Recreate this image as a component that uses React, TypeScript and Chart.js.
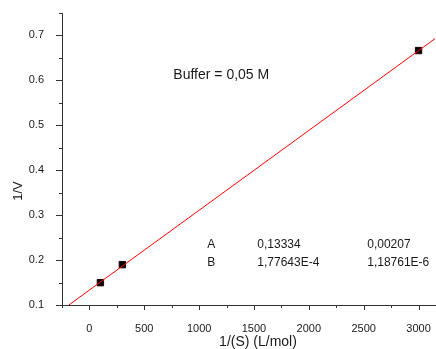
import { useEffect, useRef } from 'react';
import { Chart, registerables } from 'chart.js';

Chart.register(...registerables);

// ---- data ----
const pointX = [100, 300, 3000];
const pointY = [0.1497, 0.1898, 0.6664];
const fitX = [-187.7, 3150];
const fitY = [0.1, 0.6929];

const xMajorTicks = [0, 500, 1000, 1500, 2000, 2500, 3000];
const xMinorTicks = [-250, 250, 750, 1250, 1750, 2250, 2750];
const yMajorTicks = [0.1, 0.2, 0.3, 0.4, 0.5, 0.6, 0.7];
const yMinorTicks = [0.15, 0.25, 0.35, 0.45, 0.55, 0.65, 0.75];

const xTitle = '1/(S) (L/mol)';
const yTitle = '1/V';
const noteText = 'Buffer = 0,05 M';
const noteAt = [765, 0.612];
const paramNames = ['A', 'B'];
const paramValues = ['0,13334', '1,77643E-4'];
const paramErrors = ['0,00207', '1,18761E-6'];
const paramColsX = [1075, 1530, 2532];
const paramRowsY = [0.2347, 0.1935];

const AXIS = '#333333';
const TEXT = '#1a1a1a';
const FONT = '"Liberation Sans", Arial, sans-serif';

const decorPlugin = {
  id: 'decor',
  afterDraw(chart: any) {
    const { ctx, chartArea, scales } = chart;
    const xs = scales.x;
    const ys = scales.y;
    ctx.save();
    ctx.strokeStyle = AXIS;
    ctx.lineWidth = 1;
    ctx.beginPath();
    xMajorTicks.forEach((v) => {
      const p = Math.round(xs.getPixelForValue(v)) + 0.5;
      ctx.moveTo(p, chartArea.bottom);
      ctx.lineTo(p, chartArea.bottom + 5);
    });
    xMinorTicks.forEach((v) => {
      const p = Math.round(xs.getPixelForValue(v)) + 0.5;
      ctx.moveTo(p, chartArea.bottom);
      ctx.lineTo(p, chartArea.bottom + 3);
    });
    yMajorTicks.forEach((v) => {
      const p = Math.round(ys.getPixelForValue(v)) + 0.5;
      ctx.moveTo(chartArea.left, p);
      ctx.lineTo(chartArea.left - 6, p);
    });
    yMinorTicks.forEach((v) => {
      const p = Math.round(ys.getPixelForValue(v)) + 0.5;
      ctx.moveTo(chartArea.left, p);
      ctx.lineTo(chartArea.left - 3, p);
    });
    ctx.stroke();

    ctx.fillStyle = TEXT;
    // axis titles
    ctx.font = `14px ${FONT}`;
    ctx.textAlign = 'center';
    ctx.textBaseline = 'middle';
    ctx.fillText(xTitle, 258, 342);
    ctx.save();
    ctx.translate(18, 191);
    ctx.rotate(-Math.PI / 2);
    ctx.font = `13px ${FONT}`;
    ctx.fillText(yTitle, 0, 0);
    ctx.restore();

    // annotations
    ctx.font = `14px ${FONT}`;
    ctx.textAlign = 'left';
    ctx.fillText(noteText, xs.getPixelForValue(noteAt[0]), ys.getPixelForValue(noteAt[1]));
    ctx.font = `12px ${FONT}`;
    paramNames.forEach((n, i) => {
      const y = ys.getPixelForValue(paramRowsY[i]);
      ctx.fillText(n, xs.getPixelForValue(paramColsX[0]), y);
      ctx.fillText(paramValues[i], xs.getPixelForValue(paramColsX[1]), y);
      ctx.fillText(paramErrors[i], xs.getPixelForValue(paramColsX[2]), y);
    });
    ctx.restore();
  },
};

export default function App() {
  const ref = useRef<HTMLCanvasElement | null>(null);
  useEffect(() => {
    if (!ref.current) return;
    const chart = new Chart(ref.current, {
      type: 'scatter',
      data: {
        datasets: [
          {
            type: 'line',
            data: fitX.map((x, i) => ({ x, y: fitY[i] })),
            borderColor: '#ff0000',
            borderWidth: 1,
            pointRadius: 0,
            fill: false,
          } as any,
          {
            data: pointX.map((x, i) => ({ x, y: pointY[i] })),
            backgroundColor: '#000000',
            borderColor: '#200000',
            borderWidth: 1,
            pointStyle: 'rect',
            pointRadius: 4.5,
          },
        ],
      },
      plugins: [decorPlugin],
      options: {
        responsive: false,
        animation: false,
        layout: { autoPadding: false, padding: { left: 0, right: 1, top: 13, bottom: 0 } },
        plugins: { legend: { display: false }, tooltip: { enabled: false } },
        scales: {
          x: {
            type: 'linear',
            min: -250,
            max: 3150,
            afterFit: (s: any) => {
              s.height = 44;
              s.paddingLeft = 0;
              s.paddingRight = 0;
              s.paddingTop = 0;
              s.paddingBottom = 0;
            },
            afterBuildTicks: (s: any) => { s.ticks = xMajorTicks.map((v) => ({ value: v })); },
            grid: { display: false },
            border: { display: true, color: AXIS, width: 1 },
            ticks: {
              color: TEXT,
              font: { family: FONT, size: 11 },
              padding: 9,
              maxRotation: 0,
              callback: (v: any) => String(v),
            },
          },
          y: {
            type: 'linear',
            min: 0.1,
            max: 0.75,
            afterFit: (s: any) => {
              s.width = 62;
              s.paddingLeft = 0;
              s.paddingRight = 0;
              s.paddingTop = 0;
              s.paddingBottom = 0;
            },
            afterBuildTicks: (s: any) => { s.ticks = yMajorTicks.map((v) => ({ value: v })); },
            grid: { display: false },
            border: { display: true, color: AXIS, width: 1 },
            ticks: {
              color: TEXT,
              font: { family: FONT, size: 11 },
              padding: 10,
              callback: (v: any) => Number(v).toFixed(1),
            },
          },
        },
      },
    });
    return () => chart.destroy();
  }, []);
  return (
    <div style={{ position: 'absolute', left: 0, top: 0, width: 436, height: 349, background: '#fff' }}>
      <canvas ref={ref} width={436} height={349} />
    </div>
  );
}
